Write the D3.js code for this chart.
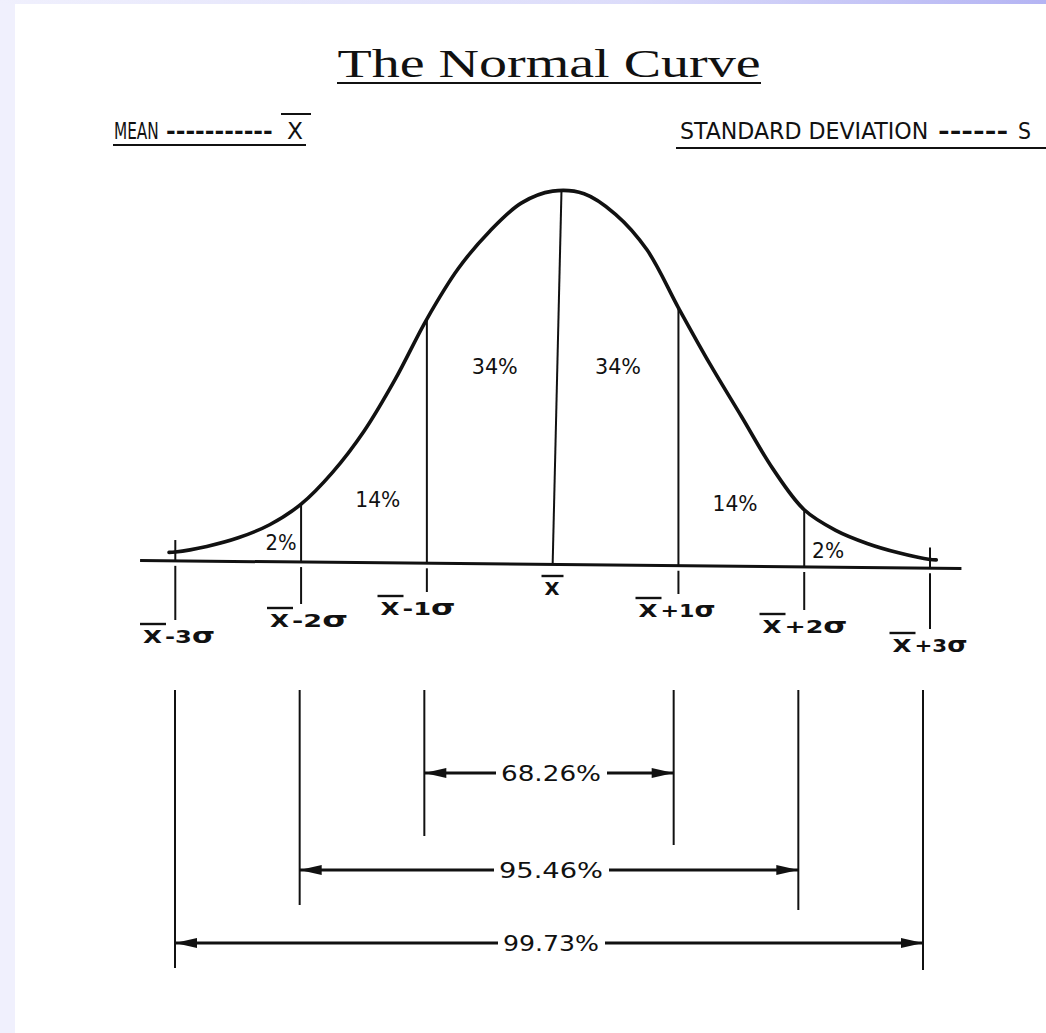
<!DOCTYPE html>
<html><head><meta charset="utf-8">
<script src="https://cdn.jsdelivr.net/npm/d3@7"></script>
<style>html,body{margin:0;padding:0;background:#fff;overflow:hidden}</style>
</head><body>
<svg id="chart" width="1046" height="1033"></svg>
<script>
// ---------------- data ----------------
const titleText = "The Normal Curve";
const meanWord = "MEAN";
const meanDashes = "-----------";
const meanSymbol = "X";
const sdWords = "STANDARD DEVIATION";
const sdDashes = "------";
const sdSymbol = "S";
const sigmaTicks = [-3, -2, -1, 0, 1, 2, 3];
const sigmaSign = ["-3", "-2", "-1", "", "+1", "+2", "+3"];
// hand-drawn curve (x in sigma units, height relative to the peak)
const curveSigma  = [-3.05, -3.0, -2.75, -2.5, -2.25, -2.0, -1.75, -1.5, -1.25, -1.0, -0.75, -0.5, -0.25, 0.0, 0.25, 0.5, 0.75, 1.0, 1.25, 1.5, 1.75, 2.0, 2.25, 2.5, 2.75, 3.0, 3.05];
const curveHeight = [0.031, 0.032, 0.047, 0.070, 0.105, 0.160, 0.245, 0.355, 0.495, 0.655, 0.790, 0.890, 0.965, 0.997, 0.990, 0.935, 0.840, 0.685, 0.535, 0.395, 0.255, 0.145, 0.090, 0.055, 0.030, 0.012, 0.011];
const meanLineTop = 0.07; // the drawn centre line leans slightly right at its top
const areaPct = ["2%", "14%", "34%", "34%", "14%", "2%"];
const spanSigma = [1, 2, 3];
const spanPct = ["68.26%", "95.46%", "99.73%"];

// ---------------- layout ----------------
const W = 1046, H = 1033;
const svg = d3.select("#chart");
const x = d3.scaleLinear().domain([-3, 3]).range([175.3, 930]);
const xb = d3.scaleLinear().domain([-3, 3]).range([175, 923]);
const y = d3.scaleLinear().domain([0, 1]).range([564, 190]);
// the scanned base line is slightly tilted
const baseY = d3.scaleLinear().domain([-3.28, 3.25]).range([560.5, 568.5]);
const ink = "#111";
const letterFont = "'DejaVu Sans Condensed','DejaVu Sans',sans-serif";

// page edges of the scan
const defs = svg.append("defs");
const g1 = defs.append("linearGradient").attr("id", "topbar");
g1.append("stop").attr("offset", "0%").attr("stop-color", "#f0f0fd");
g1.append("stop").attr("offset", "60%").attr("stop-color", "#dcdcfa");
g1.append("stop").attr("offset", "100%").attr("stop-color", "#b4b4f3");
svg.append("rect").attr("width", W).attr("height", H).attr("fill", "#fff");
svg.append("rect").attr("x", 0).attr("y", 0).attr("width", 15).attr("height", H).attr("fill", "#f0f0fd");
svg.append("rect").attr("x", 0).attr("y", 0).attr("width", W).attr("height", 4).attr("fill", "url(#topbar)");

function txt(str, px, py, opts = {}) {
  const t = svg.append("text").attr("x", px).attr("y", py)
    .attr("font-family", opts.family || letterFont).attr("font-size", opts.size || 20)
    .attr("fill", ink).text(str);
  if (opts.anchor) t.attr("text-anchor", opts.anchor);
  if (opts.weight) t.attr("font-weight", opts.weight);
  if (opts.len) t.attr("textLength", opts.len).attr("lengthAdjust", "spacingAndGlyphs");
  return t;
}
// horizontally scaled lettering (keeps its real box matching what is drawn)
function scaled(str, px, py, size, sx, weight) {
  const t = svg.append("text").attr("transform", `translate(${px},${py}) scale(${sx},1)`)
    .attr("font-family", letterFont).attr("font-size", size).attr("fill", ink).text(str);
  if (weight) t.attr("font-weight", weight);
  return t;
}
function hline(x1, x2, yy, w) {
  svg.append("line").attr("x1", x1).attr("x2", x2).attr("y1", yy).attr("y2", yy).attr("stroke", ink).attr("stroke-width", w);
}

// title
txt(titleText, 549, 77, { family: "'Liberation Serif','Times New Roman',serif", size: 41, anchor: "middle", len: 423 });
hline(337, 761, 83, 2);

// legends
scaled(meanWord, 114, 139, 23, 0.74);
scaled(meanDashes, 166, 139, 23, 1.13, "bold");
txt(meanSymbol, 287, 139, { size: 23, len: 16 });
hline(281, 311, 114, 2);
hline(113, 306, 145, 2.2);

scaled(sdWords, 680, 139, 23, 1.07);
scaled(sdDashes, 938, 139, 23, 1.36, "bold");
txt(sdSymbol, 1018, 139, { size: 23, len: 13 });
hline(676, 1046, 148, 2.2);

// curve
const pts = curveSigma.map((s, i) => [s, curveHeight[i]]);
const line = d3.line().x(d => x(d[0])).y(d => y(d[1])).curve(d3.curveCatmullRom.alpha(0.5));
svg.append("path").attr("d", line(pts)).attr("fill", "none").attr("stroke", ink)
  .attr("stroke-width", 3.6).attr("stroke-linecap", "round");

function heightAt(s) {
  for (let i = 0; i < curveSigma.length - 1; i++) {
    if (s >= curveSigma[i] && s <= curveSigma[i + 1]) {
      const t = (s - curveSigma[i]) / (curveSigma[i + 1] - curveSigma[i]);
      return curveHeight[i] + t * (curveHeight[i + 1] - curveHeight[i]);
    }
  }
  return 0;
}

// base line
svg.append("line").attr("x1", x(-3.28)).attr("x2", x(3.25)).attr("y1", baseY(-3.28)).attr("y2", baseY(3.25))
  .attr("stroke", ink).attr("stroke-width", 3);

// vertical dividers up to the curve
sigmaTicks.filter(s => Math.abs(s) < 3).forEach(s => {
  const top = s === 0 ? meanLineTop : s;
  svg.append("line").attr("x1", x(s)).attr("x2", x(top)).attr("y1", baseY(s)).attr("y2", y(heightAt(top)))
    .attr("stroke", ink).attr("stroke-width", 2);
});
// end ticks at +-3 (above the base line)
[-3, 3].forEach(s => {
  svg.append("line").attr("x1", x(s)).attr("x2", x(s)).attr("y1", baseY(s)).attr("y2", y(heightAt(s)) - 12)
    .attr("stroke", ink).attr("stroke-width", 2);
});

// sigma labels with leader lines
const labelBase = [643, 627, 615, 595, 617, 633, 652];
const labelW = [72, 78, 75, 15, 77, 85, 75];
const labelCx = [179, 309, 418, 552, 677, 805, 930];
sigmaTicks.forEach((s, i) => {
  const b = labelBase[i];
  const left = labelCx[i] - labelW[i] / 2;
  const xw = s === 0 ? 15 : 19;
  txt("X", left, b, { size: 18, weight: "bold", len: xw });
  hline(left - 3, left + xw + 4, b - 19, 2.4);
  if (sigmaSign[i]) {
    const sw = labelW[i] - xw - 3;
    const t = svg.append("text").attr("x", left + xw + 3).attr("y", b)
      .attr("font-family", letterFont).attr("font-weight", "bold").attr("font-size", 18)
      .attr("textLength", sw).attr("lengthAdjust", "spacingAndGlyphs").attr("fill", ink);
    t.append("tspan").text(sigmaSign[i]);
    t.append("tspan").attr("font-size", 22).text("σ");
    svg.append("line").attr("x1", x(s)).attr("x2", x(s)).attr("y1", baseY(s) + 5).attr("y2", b - 23)
      .attr("stroke", ink).attr("stroke-width", 2);
  }
});

// area percentages
const areaPos = [[-2.16, 550], [-1.39, 507], [-0.46, 374], [0.52, 374], [1.45, 511], [2.19, 558]];
const areaW = [31, 45, 46, 46, 45, 32];
areaPct.forEach((p, i) => {
  txt(p, x(areaPos[i][0]), areaPos[i][1], { size: 21, anchor: "middle", len: areaW[i] });
});

// bottom spans with double arrows
const spanTop = 690;
const spanBottomL = [836, 905, 968];
const spanBottomR = [845, 910, 970];
const spanY = [773, 870, 943];
const spanTextHalf = [50, 52, 48];
spanSigma.forEach((s, i) => {
  const xl = xb(-s), xr = xb(s), yy = spanY[i], cx = xb(0) + 2;
  svg.append("line").attr("x1", xl).attr("x2", xl).attr("y1", spanTop).attr("y2", spanBottomL[i]).attr("stroke", ink).attr("stroke-width", 2);
  svg.append("line").attr("x1", xr).attr("x2", xr).attr("y1", spanTop).attr("y2", spanBottomR[i]).attr("stroke", ink).attr("stroke-width", 2);
  hline(xl, cx - spanTextHalf[i] - 5, yy, 3);
  hline(cx + spanTextHalf[i] + 6, xr, yy, 3);
  svg.append("path").attr("d", `M${xl},${yy} L${xl + 22},${yy - 5} L${xl + 22},${yy + 5} Z`).attr("fill", ink);
  svg.append("path").attr("d", `M${xr},${yy} L${xr - 22},${yy - 5} L${xr - 22},${yy + 5} Z`).attr("fill", ink);
  txt(spanPct[i], cx, yy + 8, { size: 22, anchor: "middle", len: spanTextHalf[i] * 2 });
});
</script>
</body></html>
